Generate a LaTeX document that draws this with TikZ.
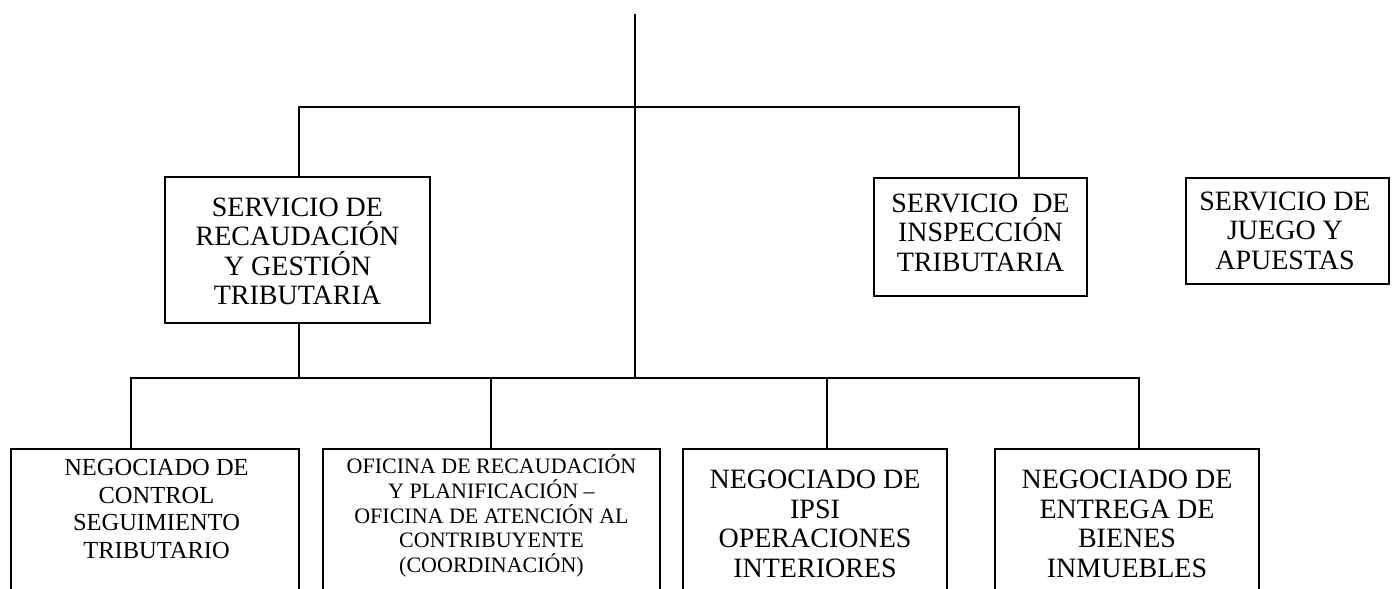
\documentclass[tikz,border=0pt]{standalone}
\usepackage{fontspec}
\setmainfont{Liberation Serif}
\begin{document}
\begin{tikzpicture}[x=1pt,y=-1pt,line width=2pt,
  box/.style={draw,rectangle,inner sep=0pt},
  big/.style={font=\fontsize{28}{29.5}\selectfont,align=center,inner sep=0pt},
  mid/.style={font=\fontsize{24.5}{27.5}\selectfont,align=center,inner sep=0pt},
  small/.style={font=\fontsize{22}{24.7}\selectfont,align=center,inner sep=0pt}]
\path[use as bounding box] (0,0) rectangle (1395,589);
\clip (0,0) rectangle (1395,589);
% boxes
\node[box,minimum width=265pt,minimum height=146pt] (b1) at (297.5,250) {};
\node[box,minimum width=213pt,minimum height=118pt] (insp) at (980.5,237) {};
\node[box,minimum width=203pt,minimum height=106pt] (juego) at (1287.5,231) {};
\node[box,minimum width=288pt,minimum height=171pt] (na) at (155,534.5) {};
\node[box,minimum width=337pt,minimum height=171pt] (nb) at (491.5,534.5) {};
\node[box,minimum width=264pt,minimum height=171pt] (nc) at (815,534.5) {};
\node[box,minimum width=264pt,minimum height=171pt] (nd) at (1127,534.5) {};
% texts
\node[big] (t1) at (297.5,251.5) {SERVICIO DE\\RECAUDACIÓN\\Y GESTIÓN\\TRIBUTARIA};
\node[big] (t2) at (980.5,232.5) {SERVICIO\hspace{0.25em} DE\\INSPECCIÓN\\TRIBUTARIA};
\node[big] (t3) at (1285,230.5) {SERVICIO DE\\JUEGO Y\\APUESTAS};
\node[mid] (ta) at (156.5,509) {NEGOCIADO DE\\CONTROL\\SEGUIMIENTO\\TRIBUTARIO};
\node[small] (tb) at (491.5,516) {OFICINA DE RECAUDACIÓN\\Y PLANIFICACIÓN –\\OFICINA DE ATENCIÓN AL\\CONTRIBUYENTE\\(COORDINACIÓN)};
\node[big] (tc) at (815,524) {NEGOCIADO DE\\IPSI\\OPERACIONES\\INTERIORES};
\node[big] (td) at (1127,524) {NEGOCIADO DE\\ENTREGA DE\\BIENES\\INMUEBLES};
% connector points
\coordinate (top) at (635,14);
\coordinate (j2) at (635,378);
\coordinate (l1) at (299,107);
\coordinate (r1) at (1019,107);
\coordinate (l2) at (131,378);
\coordinate (r2) at (1139,378);
\coordinate (m2a) at (491,378);
\coordinate (m2b) at (827,378);
% connectors
\draw (top) -- (j2);
\draw (l1 |- b1.north) -- (l1) -- (r1) -- (r1 |- insp.north);
\draw (l1 |- b1.south) -- (l1 |- j2);
\draw (l2 |- na.north) -- (l2) -- (r2) -- (r2 |- nd.north);
\draw (m2a) -- (m2a |- nb.north);
\draw (m2b) -- (m2b |- nc.north);
\end{tikzpicture}
\end{document}
